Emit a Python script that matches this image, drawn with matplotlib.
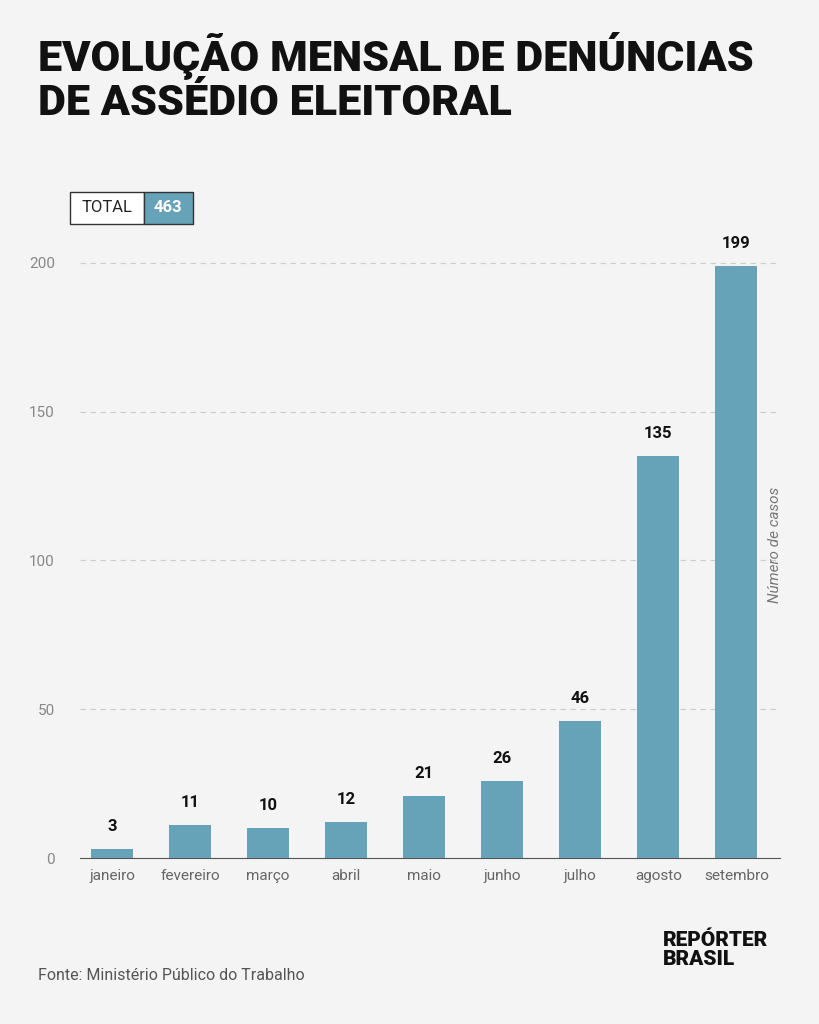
import matplotlib
matplotlib.use("Agg")
import matplotlib.pyplot as plt
from matplotlib.patches import Rectangle

months = ["janeiro","fevereiro","março","abril","maio","junho","julho","agosto","setembro"]
values = [3,11,10,12,21,26,46,135,199]
yticks = [0,50,100,150,200]
total = 463

BG = "#f4f4f4"; BAR = "#67a3b8"
fig = plt.figure(figsize=(8.19,10.24), dpi=100, facecolor=BG)
ax = fig.add_axes([80/819, 1-858/1024, 700/819, (858-248)/1024])
ax.set_facecolor(BG)
x = range(len(months))
ax.bar(x, values, width=0.54, color=BAR, zorder=3)
for i, v in zip(x, values):
    ax.text(i, v + 5, str(v), ha="center", va="bottom", fontsize=12, fontweight="bold", family="Roboto", color="#111")
ax.set_xlim(-0.41, 8.56); ax.set_ylim(0, 205)
ax.set_yticks(yticks)
ax.set_yticklabels([str(t) for t in yticks], family="Roboto", fontsize=11, color="#888")
ax.set_xticks(list(x))
ax.set_xticklabels(months, family="Roboto", fontsize=11, color="#666")
ax.tick_params(length=0, pad=8)
ax.tick_params(axis="y", pad=18)
for t in yticks[1:]:
    ax.axhline(t, color="#cccccc", lw=0.8, ls=(0,(5,4)), zorder=1)
for s in ["top","right","left"]:
    ax.spines[s].set_visible(False)
ax.spines["bottom"].set_color("#555")
fig.text(775/819, 1-545/1024, "Número de casos", rotation=90, ha="center", va="center",
         style="italic", family="Roboto", fontsize=11, color="#777")

fig.text(38/819, 1-78/1024, "EVOLUÇÃO MENSAL DE DENÚNCIAS\nDE ASSÉDIO ELEITORAL", ha="left", va="center",
         family="Roboto", fontweight="heavy", fontsize=31, color="#111", linespacing=1.1)

# total box
fig.patches.append(Rectangle((70/819, 1-224/1024), 74/819, 32/1024, transform=fig.transFigure,
                             facecolor="white", edgecolor="#333", lw=1))
fig.patches.append(Rectangle((144/819, 1-224/1024), 49/819, 32/1024, transform=fig.transFigure,
                             facecolor=BAR, edgecolor="#333", lw=1))
fig.text(107/819, 1-208/1024, "TOTAL", ha="center", va="center", family="Roboto", fontsize=12, color="#222")
fig.text(168/819, 1-208/1024, str(total), ha="center", va="center", family="Roboto", fontsize=12,
         fontweight="bold", color="white")

fig.text(38/819, 1-975/1024, "Fonte: Ministério Público do Trabalho", ha="left", va="center",
         family="Roboto", fontsize=11.5, color="#555")
fig.text(663/819, 1-950/1024, "REPÓRTER\nBRASIL", ha="left", va="center", family="Roboto",
         fontweight="heavy", fontsize=15, color="#111", linespacing=0.95)
fig.savefig("out.png", dpi=100, facecolor=BG)
